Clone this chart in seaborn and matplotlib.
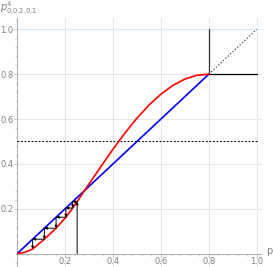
import numpy as np
import pandas as pd
import matplotlib
matplotlib.use("Agg")
import matplotlib.pyplot as plt
import seaborn as sns
from matplotlib.ticker import MultipleLocator

# ---- data ----
red_x = [0, 0.03, 0.064, 0.113, 0.162, 0.203, 0.231, 0.25, 0.28, 0.3, 0.35,
         0.4, 0.45, 0.5, 0.55, 0.6, 0.65, 0.7, 0.75, 0.8]
red_y = [0, 0.005, 0.02, 0.064, 0.113, 0.162, 0.203, 0.231, 0.28, 0.311, 0.389,
         0.466, 0.538, 0.604, 0.662, 0.711, 0.750, 0.778, 0.795, 0.8]
blue_x = [0, 0.8]
blue_y = [0, 0.8]
dotted_x = [0.8, 1.0]
dotted_y = [0.8, 1.0]
half_x = [0, 1.0]
half_y = [0.5, 0.5]
vline_x = [0.8, 0.8]
vline_y = [0.8, 1.0]
hline_x = [0.8, 1.0]
hline_y = [0.8, 0.8]
cobweb = [0.25, 0.231, 0.203, 0.162, 0.113, 0.064, 0.02]
ticks = [0.2, 0.4, 0.6, 0.8, 1.0]
tick_labels = ["0.2", "0.4", "0.6", "0.8", "1.0"]

sns.set_theme(style="white")
plt.rcParams["font.family"] = ["DejaVu Sans"]

W, H = 273, 267
fig = plt.figure(figsize=(W / 100, H / 100), dpi=100)
ax = fig.add_axes([17.3 / W, 0.0, 244.2 / W, (267 - 18.1) / H])
ax.set_xlim(0, 1.02)
ax.set_ylim(-0.06, 1.05)
ax.set_facecolor("white")

grid_c = "#e6e6e6"
for t in ticks:
    ax.axvline(t, color=grid_c, lw=0.75, zorder=0)
for t in ticks[:-1]:
    ax.axhline(t, color=grid_c, lw=0.75, zorder=0)
ax.axhline(1.0, color="#d6eaf8", lw=0.9, zorder=0)

df_red = pd.DataFrame({"x": red_x, "y": red_y})
df_blue = pd.DataFrame({"x": blue_x, "y": blue_y})
sns.lineplot(data=df_red, x="x", y="y", color="#ff0000", lw=1.2, ax=ax,
             sort=False, zorder=4)
sns.lineplot(data=df_blue, x="x", y="y", color="#0000ff", lw=1.2, ax=ax,
             sort=False, zorder=3)
ax.plot(dotted_x, dotted_y, color="#444444", lw=0.9, ls=(0, (1, 1.6)), zorder=3)
ax.plot(half_x, half_y, color="black", lw=0.8, ls=(0, (1.6, 1.6)), zorder=3)
ax.plot(vline_x, vline_y, color="#333333", lw=0.9, zorder=3)
ax.plot(hline_x, hline_y, color="black", lw=0.9, zorder=3)

# cobweb
segs = [((cobweb[0], 0), (cobweb[0], cobweb[1]))]
for i in range(1, len(cobweb) - 1):
    segs.append(((cobweb[i - 1], cobweb[i]), (cobweb[i], cobweb[i])))
    segs.append(((cobweb[i], cobweb[i]), (cobweb[i], cobweb[i + 1])))
for a, b in segs:
    ax.annotate("", xy=b, xytext=a,
                arrowprops=dict(arrowstyle="-|>", mutation_scale=3.5, lw=0.7,
                                color="black", shrinkA=0, shrinkB=0),
                zorder=5)

# axes
for s in ["top", "right"]:
    ax.spines[s].set_visible(False)
ax.spines["left"].set_position(("data", 0))
ax.spines["bottom"].set_position(("data", 0))
for s in ["left", "bottom"]:
    ax.spines[s].set_color("#b3b3b3")
    ax.spines[s].set_linewidth(0.8)
ax.set_xticks(ticks)
ax.set_xticklabels(tick_labels)
ax.set_yticks(ticks)
ax.set_yticklabels(tick_labels)
ax.xaxis.set_minor_locator(MultipleLocator(0.04))
ax.yaxis.set_minor_locator(MultipleLocator(0.04))
ax.tick_params(which="major", direction="out", length=2, width=0.6,
               color="#b3b3b3", labelsize=6, labelcolor="#808080", pad=0.8,
               bottom=True, left=True)
ax.tick_params(which="minor", direction="out", length=1.2, width=0.5,
               color="#b3b3b3", bottom=True, left=True)
ax.set_xlabel("")
ax.set_ylabel("")

ax.text(1.04, 0.01, "p", fontsize=7, color="#808080", ha="left",
        va="center", clip_on=False)
fig.text(0.5 / W, 1 - 9 / H, r"$p^{4}_{0{,}0.2{,}0{,}1}$", fontsize=7,
         color="#808080", ha="left", va="center")

fig.savefig("out.png", dpi=100)
